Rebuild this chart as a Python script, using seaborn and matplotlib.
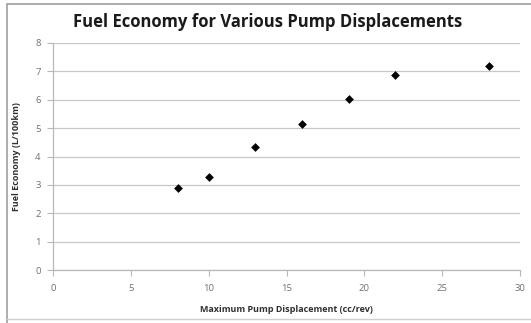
import matplotlib
matplotlib.use("Agg")
import matplotlib.pyplot as plt
import seaborn as sns
import pandas as pd
from matplotlib.lines import Line2D

displacement = [8, 10, 13, 16, 19, 22, 28]
fuel_economy = [2.9, 3.28, 4.35, 5.15, 6.04, 6.87, 7.18]
x_ticks = [0, 5, 10, 15, 20, 25, 30]
y_ticks = [0, 1, 2, 3, 4, 5, 6, 7, 8]

df = pd.DataFrame({"disp": displacement, "fe": fuel_economy})

sns.set_style("white")
plt.rcParams['font.family'] = ['Open Sans', 'DejaVu Sans']

fig = plt.figure(figsize=(5.31, 3.23), dpi=100)
ax = fig.add_axes([53/531, 1-270/323, (520-53)/531, (270-43)/323])

sns.scatterplot(data=df, x="disp", y="fe", marker="D", s=20, color="black",
                edgecolor="black", linewidth=0, ax=ax, zorder=3)

ax.set_xlim(0, 30)
ax.set_ylim(0, 8)
ax.set_xticks(x_ticks)
ax.set_yticks(y_ticks)
ax.yaxis.grid(True, color="#c8c8c8", linewidth=0.9)
ax.xaxis.grid(False)
for s in ["top", "right"]:
    ax.spines[s].set_visible(False)
for s in ["left", "bottom"]:
    ax.spines[s].set_color("#b8b8b8")
    ax.spines[s].set_linewidth(0.9)
ax.tick_params(axis="both", which="both", length=4, width=0.8, color="#b8b8b8",
               labelsize=6.8, labelcolor="#707070", direction="out",
               bottom=True, left=True)
ax.tick_params(axis="x", pad=6)
ax.tick_params(axis="y", pad=5)

ax.set_xlabel("Maximum Pump Displacement (cc/rev)", fontsize=6.5, fontweight="bold",
              color="#303030", labelpad=9)
ax.set_ylabel("Fuel Economy (L/100km)", fontsize=6.5, fontweight="bold",
              color="#303030", labelpad=10)

fig.text(268/531, 1-22/323, "Fuel Economy for Various Pump Displacements",
         ha="center", va="center", fontsize=12, fontweight="bold", color="#1a1a1a")

# figure border
bc = "#a0a0a0"
fig.add_artist(Line2D([7/531, 7/531], [0, 1-4/323], transform=fig.transFigure, color=bc, lw=1.2))
fig.add_artist(Line2D([7/531, 1], [1-4/323, 1-4/323], transform=fig.transFigure, color=bc, lw=1.2))
fig.add_artist(Line2D([7/531, 1], [1-319/323, 1-319/323], transform=fig.transFigure, color="#d0d0d0", lw=1.0))

fig.savefig("out.png", dpi=100)
